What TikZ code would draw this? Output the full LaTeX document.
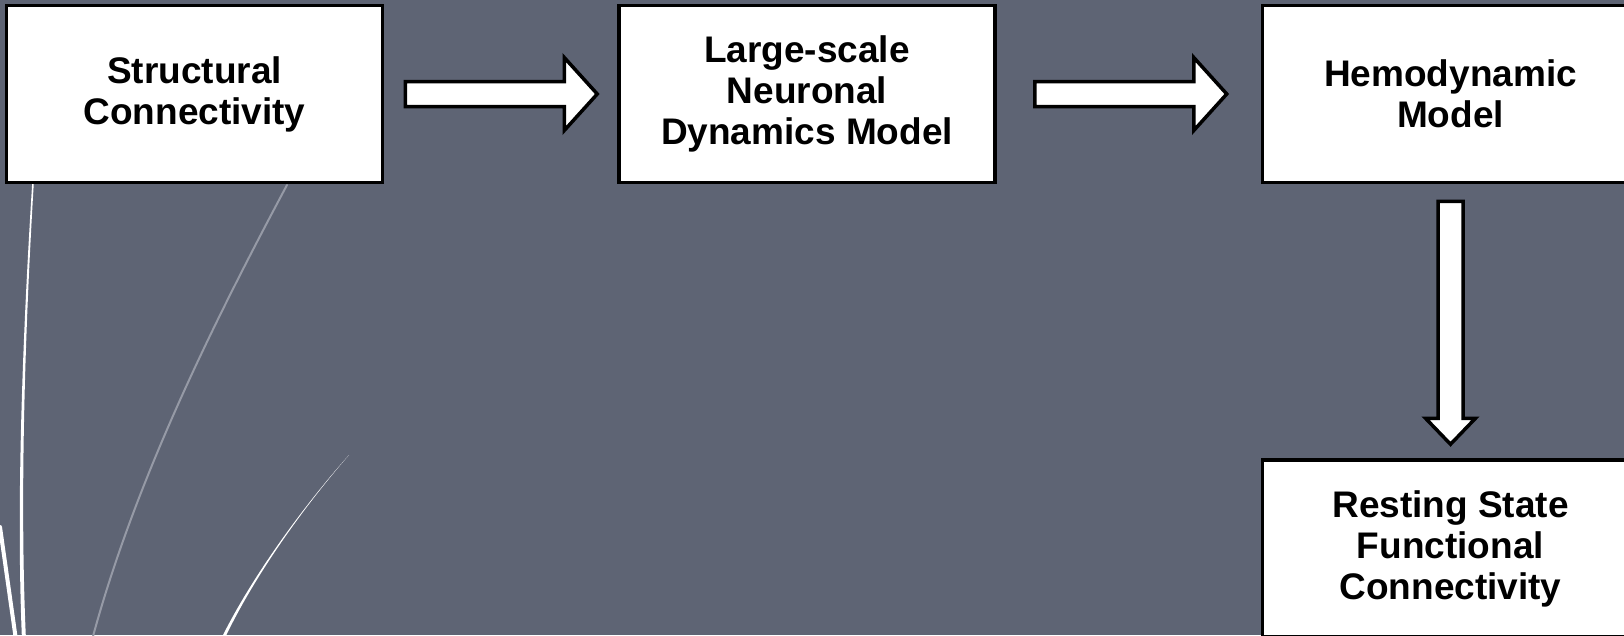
\documentclass[tikz,border=0pt]{standalone}
\usepackage{fontspec}
\setmainfont{Liberation Sans}
\usepackage{xcolor}
\usepackage{tikz}
\usetikzlibrary{positioning, calc}
\definecolor{boardslate}{RGB}{94, 100, 116}
\definecolor{chalkgray}{RGB}{150, 154, 166}

\begin{document}
\begin{tikzpicture}[x=1pt, y=-1pt,
    stagebox/.style={draw=black, fill=white, line width=3.5pt, minimum width=376pt,
          minimum height=177pt, inner sep=0pt, align=center,
          font=\fontsize{37}{41}\selectfont\bfseries},
    blockarrow/.style={draw=black, fill=white, line width=3.5pt, line join=miter},
    chalk/.style={white, line cap=round}]
    % the board itself
    \fill[boardslate] (0,0) rectangle (1624,635);
    \useasboundingbox (0,0) rectangle (1624,635);

    % chalk strokes, lower left (tapered ones are filled)
    \fill[white] (32.2,183) .. controls (23,330) and (16,500) .. (22,640)
        -- (26,640) .. controls (19.5,500) and (25,330) .. (33.8,183) -- cycle;
    \draw[chalk, line width=4pt] (0,527) -- (16,640);
    \draw[chalkgray, line width=2pt, line cap=round] (287,185) .. controls (215,320) and (135,480) .. (92,640);
    \fill[white] (349,455) .. controls (300,510) and (250,580) .. (220.5,640)
        -- (224,640) .. controls (252,580) and (301,510) .. (349,455) -- cycle;

    % pipeline stages
    \node[stagebox] (sc) at (194.5,94) {Structural\\Connectivity};
    \node[stagebox, right=233pt of sc] (nd) {Large-scale\\Neuronal\\Dynamics Model};
    \node[stagebox, right=264pt of nd] (hm) {Hemodynamic\\Model};
    \node[stagebox, below=274pt of hm] (rs) {Resting State\\Functional\\Connectivity};

    % fat arrows between the stages
    \draw[blockarrow] ($(sc.east)+(21,-12.5)$) -- ++(159,0) -- ++(0,-24) -- ++(33,36.5)
        -- ++(-33,36.5) -- ++(0,-24) -- ++(-159,0) -- cycle;
    \draw[blockarrow] ($(nd.east)+(38,-12.5)$) -- ++(159,0) -- ++(0,-24) -- ++(33,36.5)
        -- ++(-33,36.5) -- ++(0,-24) -- ++(-159,0) -- cycle;
    \draw[blockarrow] ($(hm.south)+(-12.5,17)$) -- ++(0,217) -- ++(-12.5,0) -- ++(25,26)
        -- ++(25,-26) -- ++(-12.5,0) -- ++(0,-217) -- cycle;
\end{tikzpicture}
\end{document}
